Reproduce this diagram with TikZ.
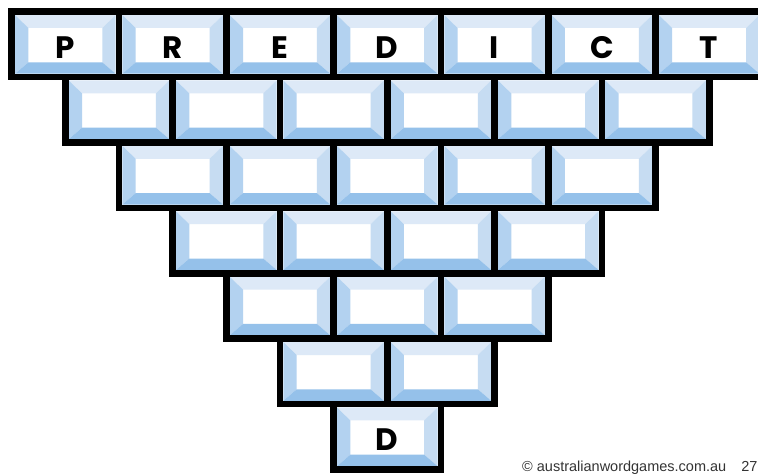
\documentclass[tikz,border=0pt]{standalone}
\usepackage{fontspec}
\setmainfont{Poppins}
\newfontfamily\copyfont{Liberation Sans}
\usetikzlibrary{positioning}

\definecolor{bevtop}{HTML}{DDE9F7}
\definecolor{bevleft}{HTML}{B3D2F0}
\definecolor{bevright}{HTML}{C6DCF2}
\definecolor{bevbot}{HTML}{95C1EA}

%one brick, top left corner of its outline at (#1,#2)
\newcommand{\brick}[2]{%
  \begin{scope}[shift={(#1,#2)}]
    \fill[white] (3.35,3.35) rectangle (103.95,62.05);
    \fill[bevtop] (3.35,3.35) -- (103.95,3.35) -- (90.6,16.3) -- (16.7,16.3) -- cycle;
    \fill[bevleft] (3.35,3.35) -- (16.7,16.3) -- (16.7,50.6) -- (3.35,62.05) -- cycle;
    \fill[bevright] (103.95,3.35) -- (90.6,16.3) -- (90.6,50.6) -- (103.95,62.05) -- cycle;
    \fill[bevbot] (3.35,62.05) -- (16.7,50.6) -- (90.6,50.6) -- (103.95,62.05) -- cycle;
    \draw[line width=6.7pt] (0,0) rectangle (107.3,65.4);
  \end{scope}}

\begin{document}
\begin{tikzpicture}[x=1pt,y=-1pt,
    letter/.style={anchor=base, inner sep=0, font=\bfseries\fontsize{31}{33}\selectfont}]
  \useasboundingbox (0,0) rectangle (758,476);
  \clip (0,0) rectangle (758,476);
  %draws the rows of bricks, each row one shorter
  \foreach \row in {0,...,6}{
    \pgfmathtruncatemacro\last{6-\row}
    \foreach \k in {0,...,\last}
      \brick{11.7+\row*53.65+\k*107.3}{11.7+\row*65.4};
  }
  %letters of the top row
  \foreach \ch [count=\i from 0] in {P,R,E,D,I,C,T}
    \node (top\i) [letter] at (65.35+\i*107.3,58.5) {\ch};
  %letter of the bottom brick
  \node (bottom) [letter] at (387.25,450.8) {D};
  %copyright line
  \node (copy) [anchor=base west, inner sep=0, text=black!80,
    font=\copyfont\fontsize{14.5}{16}\selectfont] at (522,471)
    {© australianwordgames.com.au\hspace{15pt}27};
\end{tikzpicture}
\end{document}
